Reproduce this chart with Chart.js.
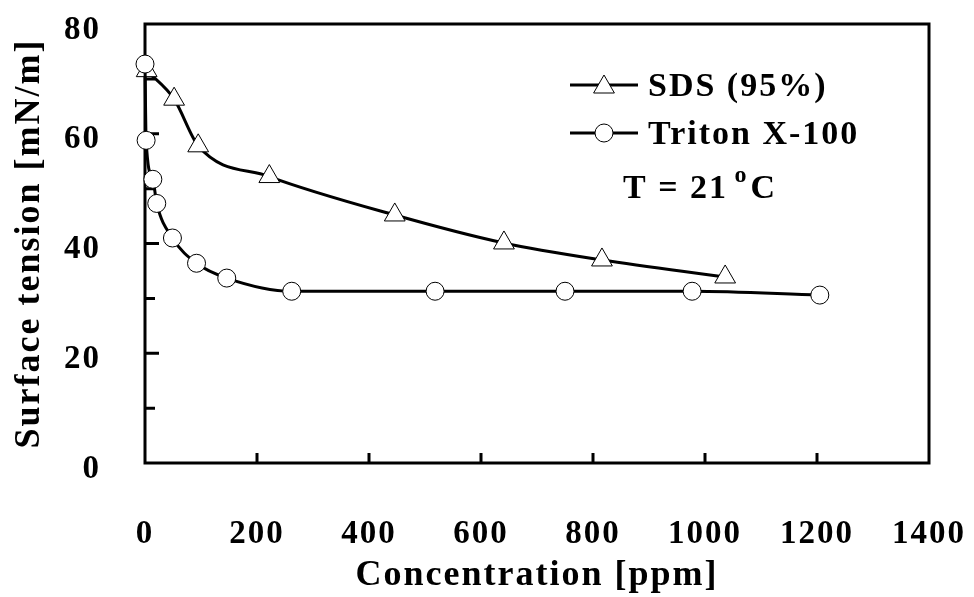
<!DOCTYPE html>
<html>
<head>
<meta charset="utf-8">
<script src="https://cdn.jsdelivr.net/npm/chart.js@4.4.1/dist/chart.umd.min.js"></script>
<style>
  html, body { margin: 0; padding: 0; background: #fff; }
  #wrap { width: 974px; height: 597px; }
</style>
</head>
<body>
<div id="wrap"><canvas id="chart"></canvas></div>
<script>
// --- DATA ---
const sdsConc = [3, 52, 95, 222, 446, 641, 816, 1036];
const sdsTension = [71.5, 66.3, 57.8, 52.2, 45.2, 40.1, 37.0, 33.9];
const tritonConc = [0, 2, 14, 21, 49, 92, 146, 262, 518, 750, 977, 1205];
const tritonTension = [72.7, 58.8, 51.7, 47.3, 41.0, 36.4, 33.7, 31.3, 31.3, 31.3, 31.3, 30.6];
const xTickValues = [0, 200, 400, 600, 800, 1000, 1200, 1400];
const yTickValues = [0, 20, 40, 60, 80];
const seriesNames = ['SDS (95%)', 'Triton X-100'];
const noteText = 'T = 21 °C';

const SERIF = '"Liberation Serif", "Times New Roman", serif';

function toPoints(xs, ys) {
    return xs.map((x, i) => ({ x: x, y: ys[i] }));
}

// frame + inward ticks, drawn under the markers
const framePlugin = {
    id: 'frame',
    beforeDatasetsDraw(chart) {
        const { ctx, chartArea: a, scales: { x, y } } = chart;
        ctx.save();
        ctx.strokeStyle = '#000';
        ctx.lineWidth = 3;
        ctx.strokeRect(a.left, a.top, a.right - a.left, a.bottom - a.top);
        ctx.beginPath();
        xTickValues.forEach(v => {
            if (v === 0 || v === 1400) return;
            const px = x.getPixelForValue(v);
            ctx.moveTo(px, a.bottom);
            ctx.lineTo(px, a.bottom - 10);
        });
        for (let v = 10; v < 80; v += 10) {
            const py = y.getPixelForValue(v);
            ctx.moveTo(a.left, py);
            ctx.lineTo(a.left + (v % 20 === 0 ? 14 : 10), py);
        }
        ctx.stroke();
        ctx.restore();
    }
};

// legend + temperature note inside the plot
const notePlugin = {
    id: 'note',
    afterDatasetsDraw(chart) {
        const { ctx } = chart;
        const ds = chart.data.datasets;
        const rows = [{ y: 85, idx: 0 }, { y: 133, idx: 1 }];
        ctx.save();
        ctx.font = 'bold 34px ' + SERIF;
        ctx.textBaseline = 'middle';
        rows.forEach(r => {
            const d = ds[r.idx];
            ctx.strokeStyle = '#000';
            ctx.lineWidth = 3;
            ctx.beginPath();
            ctx.moveTo(570, r.y);
            ctx.lineTo(638, r.y);
            ctx.stroke();
            ctx.lineWidth = 1;
            ctx.fillStyle = '#fff';
            Chart.helpers.drawPoint(ctx, {
                pointStyle: d.pointStyle,
                radius: d.pointRadius,
                borderWidth: 1
            }, 604, r.y + (d.pointStyle === 'triangle' ? 2 : 0));
            ctx.fillStyle = '#000';
            ctx.fillText(seriesNames[r.idx], 648, r.y + 2);
        });
        // T = 21 °C with raised "o"
        const parts = noteText.split('°');
        const base = parts[0].trim();
        let tx = 623;
        ctx.fillText(base, tx, 189);
        tx += ctx.measureText(base + ' ').width - 4;
        ctx.font = 'bold 24px ' + SERIF;
        ctx.fillText('o', tx, 176);
        tx += ctx.measureText('o').width + 2;
        ctx.font = 'bold 34px ' + SERIF;
        ctx.fillText(parts[1], tx, 189);
        ctx.restore();
    }
};

const spacingPlugin = {
    id: 'spacing',
    beforeInit(chart) { chart.ctx.letterSpacing = '2px'; },
    beforeDraw(chart) { chart.ctx.letterSpacing = '2px'; }
};

function noEdgePadding(s) {
    s.paddingLeft = 0;
    s.paddingRight = 0;
    s.paddingTop = 0;
    s.paddingBottom = 0;
}

new Chart(document.getElementById('chart'), {
    type: 'line',
    data: {
        datasets: [
            {
                label: seriesNames[0],
                data: toPoints(sdsConc, sdsTension),
                borderColor: '#000',
                borderWidth: 3,
                pointStyle: 'triangle',
                pointRadius: 12,
                pointBorderWidth: 1,
                pointBackgroundColor: '#fff',
                pointBorderColor: '#000',
                cubicInterpolationMode: 'monotone',
                clip: false,
                order: 1
            },
            {
                label: seriesNames[1],
                data: toPoints(tritonConc, tritonTension),
                borderColor: '#000',
                borderWidth: 3,
                pointStyle: 'circle',
                pointRadius: 9,
                pointBorderWidth: 1,
                pointBackgroundColor: '#fff',
                pointBorderColor: '#000',
                cubicInterpolationMode: 'monotone',
                clip: false,
                order: 0
            }
        ]
    },
    options: {
        responsive: true,
        maintainAspectRatio: false,
        animation: false,
        layout: { padding: { top: 24, right: 45, left: 0, bottom: 0 } },
        plugins: { legend: { display: false }, tooltip: { enabled: false } },
        scales: {
            x: {
                type: 'linear',
                min: 0, max: 1400,
                afterBuildTicks: s => { s.ticks = xTickValues.map(v => ({ value: v })); },
                afterFit: s => { s.height = 134; noEdgePadding(s); },
                grid: { display: false },
                border: { display: false },
                ticks: {
                    padding: 44,
                    color: '#000',
                    maxRotation: 0,
                    callback: v => String(v),
                    font: { family: SERIF, size: 33, weight: 'bold' }
                },
                title: {
                    display: true,
                    text: 'Concentration [ppm]',
                    color: '#000',
                    padding: { top: 0, bottom: 0 },
                    font: { family: SERIF, size: 36, weight: 'bold' }
                }
            },
            y: {
                min: 0, max: 80,
                afterBuildTicks: s => { s.ticks = yTickValues.map(v => ({ value: v })); },
                afterFit: s => { s.width = 145; noEdgePadding(s); },
                grid: { display: false },
                border: { display: false },
                ticks: {
                    padding: 36,
                    labelOffset: 6,
                    color: '#000',
                    callback: v => String(v),
                    font: { family: SERIF, size: 33, weight: 'bold' }
                },
                title: {
                    display: true,
                    text: 'Surface tension [mN/m]',
                    color: '#000',
                    padding: { top: 8, bottom: 0 },
                    font: { family: SERIF, size: 36, weight: 'bold' }
                }
            }
        }
    },
    plugins: [spacingPlugin, framePlugin, notePlugin]
});
</script>
</body>
</html>
